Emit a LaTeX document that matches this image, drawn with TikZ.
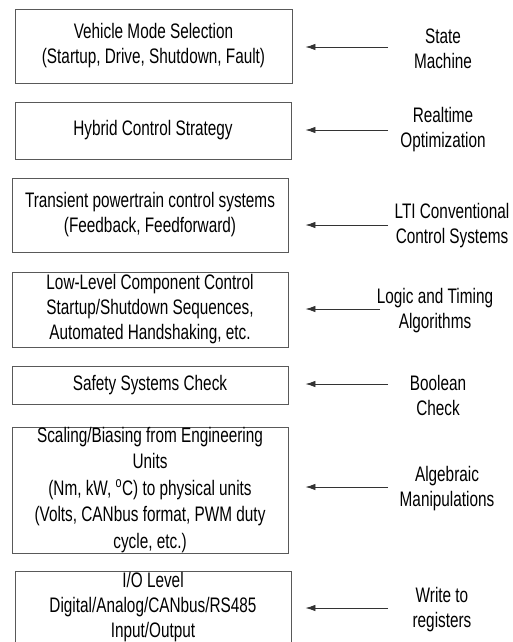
\documentclass[tikz,border=0pt]{standalone}
\usepackage{fontspec}
\setmainfont[FakeStretch=0.73]{Liberation Sans}
\usetikzlibrary{arrows.meta}
\definecolor{boxline}{gray}{0.35}
\definecolor{arrline}{gray}{0.2}
\begin{document}
\begin{tikzpicture}[x=1pt,y=-1pt,
  layerbox/.style={draw=boxline, line width=0.9pt, align=center, inner sep=0pt,
    font=\fontsize{21}{25}\selectfont},
  method/.style={align=center, inner sep=0pt, font=\fontsize{21}{25}\selectfont},
  arr/.style={draw=arrline, line width=0.9pt, -{Latex[length=10pt,width=6.5pt]}}]
\useasboundingbox (0,0) rectangle (513,642);
\clip (0,0) rectangle (513,642);

% control layers, top to bottom
\node[layerbox, minimum width=277pt, minimum height=74pt] (mode) at (153.5,46)
  {Vehicle Mode Selection\\(Startup, Drive, Shutdown, Fault)};
\node[layerbox, minimum width=276pt, minimum height=57pt] (hybrid) at (153,130.5)
  {Hybrid Control Strategy};
\node[layerbox, minimum width=276pt, minimum height=74pt] (transient) at (150,215)
  {Transient powertrain control systems\\(Feedback, Feedforward)};
\node[layerbox, minimum width=276pt, minimum height=75pt] (lowlevel) at (150,309.5)
  {Low-Level Component Control\\Startup/Shutdown Sequences,\\Automated Handshaking, etc.};
\node[layerbox, minimum width=276pt, minimum height=38pt] (safety) at (150,385)
  {Safety Systems Check};
\node[layerbox, minimum width=276pt, minimum height=126pt,
  font=\fontsize{21}{26.5}\selectfont] (scaling) at (150,490)
  {Scaling/Biasing from Engineering\\Units\\(Nm, kW, \textsuperscript{o}C) to physical units\\(Volts, CANbus format, PWM duty\\cycle, etc.)};
\node[layerbox, minimum width=276pt, minimum height=73pt] (io) at (153,607.5)
  {I/O Level\\Digital/Analog/CANbus/RS485\\Input/Output};

% methods used at each layer
\node[method] (m1) at (443,48.5) {State\\Machine};
\node[method] (m2) at (443,130) {Realtime\\Optimization};
\node[method] (m3) at (452,225.5) {LTI Conventional\\Control Systems};
\node[method] (m4) at (435,310.5) {Logic and Timing\\Algorithms};
\node[method] (m5) at (438,395) {Boolean\\Check};
\node[method] (m6) at (447,488.5) {Algebraic\\Manipulations};
\node[method] (m7) at (442,609.5) {Write to\\registers};

% arrow tails
\coordinate (t1) at (388,47);
\coordinate (t2) at (388,130);
\coordinate (t3) at (388,225);
\coordinate (t4) at (380,309);
\coordinate (t5) at (388,384);
\coordinate (t6) at (388,487);
\coordinate (t7) at (388,608);

\draw[arr, shorten >=13pt] (t1) -- (mode.east |- t1);
\draw[arr, shorten >=14pt] (t2) -- (hybrid.east |- t2);
\draw[arr, shorten >=17pt] (t3) -- (transient.east |- t3);
\draw[arr, shorten >=17pt] (t4) -- (lowlevel.east |- t4);
\draw[arr, shorten >=17pt] (t5) -- (safety.east |- t5);
\draw[arr, shorten >=17pt] (t6) -- (scaling.east |- t6);
\draw[arr, shorten >=14pt] (t7) -- (io.east |- t7);
\end{tikzpicture}
\end{document}
